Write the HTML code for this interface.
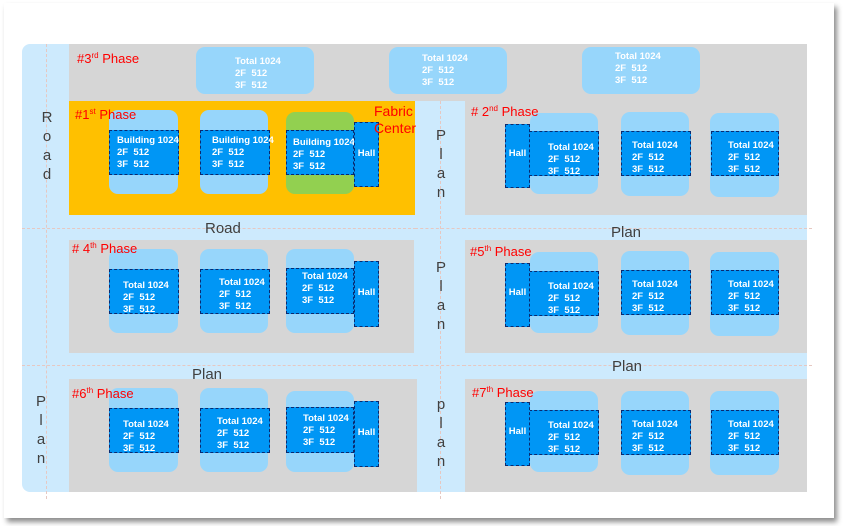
<!DOCTYPE html>
<html><head><meta charset="utf-8"><style>
*{margin:0;padding:0;box-sizing:border-box}
body{width:846px;height:526px;background:#fff;position:relative;overflow:hidden;font-family:"Liberation Sans",Arial,sans-serif}
.a{position:absolute}
.card{left:4px;top:3px;width:830px;height:515px;background:#fff;box-shadow:3px 4px 5px rgba(0,0,0,.45)}
.lb{background:#cdeafd}
.g{background:#d6d6d6}
.lt{background:#97d6fb;border-radius:9px}
.dk{background:#0096f5;border:1.5px dashed #0a2a70;color:#fff;font-weight:bold;font-size:9.5px;line-height:12px;white-space:nowrap}
.hall{background:#0096f5;border:1.5px dashed #0a2a70;color:#fff;font-weight:bold;font-size:9.5px;text-align:center}
.red{color:#f00;font-size:13px;z-index:5;white-space:nowrap}
.red sup{font-size:8px;vertical-align:5px;line-height:0}
.road{color:#404040;font-size:15px;z-index:5}
.vt{color:#404040;font-size:15px;line-height:19px;text-align:center;width:20px;z-index:5}
.dh{border-top:1px dashed #e6c8c2;height:0}
.dv{border-left:1px dashed #e6c8c2;width:0}
.tw{color:#fff;font-weight:bold;font-size:9.5px;line-height:12px}
</style></head><body>
<div class="a card"></div>
<div class="a lb" style="left:22px;top:44px;width:785px;height:448px;border-radius:8px"></div>
<div class="a" style="left:807px;top:44px;width:20px;height:450px;background:#fff"></div>
<div class="a dh" style="left:22px;top:228px;width:790px"></div>
<div class="a dh" style="left:22px;top:365px;width:790px"></div>
<div class="a dv" style="left:46px;top:44px;height:455px"></div>
<div class="a g" style="left:69px;top:44px;width:738px;height:57px"></div>
<div class="a" style="left:69px;top:101px;width:346px;height:114px;background:#ffc000"></div>
<div class="a g" style="left:465px;top:101px;width:342px;height:114px"></div>
<div class="a g" style="left:69px;top:240px;width:345px;height:113px"></div>
<div class="a g" style="left:465px;top:240px;width:342px;height:113px"></div>
<div class="a g" style="left:69px;top:379px;width:345px;height:113px"></div>
<div class="a g" style="left:465px;top:379px;width:342px;height:113px"></div>
<div class="a lb" style="left:415px;top:101px;width:50px;height:391px;border-radius:8px"></div>
<div class="a" style="left:414px;top:379px;width:3px;height:113px;background:#d6d6d6"></div>
<div class="a dv" style="left:440px;top:101px;height:398px"></div>
<div class="a dh" style="left:415px;top:228px;width:50px"></div>
<div class="a dh" style="left:415px;top:365px;width:50px"></div>

<div class="a lt" style="left:196px;top:47px;width:118px;height:47px"></div>
<div class="a tw" style="left:235px;top:56px">Total 1024<br>2F&nbsp; 512<br>3F&nbsp; 512</div>
<div class="a lt" style="left:389px;top:47px;width:118px;height:47px"></div>
<div class="a tw" style="left:422px;top:53px">Total 1024<br>2F&nbsp; 512<br>3F&nbsp; 512</div>
<div class="a lt" style="left:582px;top:47px;width:118px;height:47px"></div>
<div class="a tw" style="left:615px;top:51px">Total 1024<br>2F&nbsp; 512<br>3F&nbsp; 512</div>

<div class="a lt" style="left:109px;top:110px;width:69px;height:84px"></div>
<div class="a dk" style="left:109px;top:130px;width:70px;height:45px;padding:4px 0 0 7px">Building 1024<br>2F&nbsp; 512<br>3F&nbsp; 512</div>
<div class="a lt" style="left:200px;top:110px;width:68px;height:84px"></div>
<div class="a dk" style="left:200px;top:130px;width:70px;height:45px;padding:4px 0 0 11px">Building 1024<br>2F&nbsp; 512<br>3F&nbsp; 512</div>
<div class="a lt" style="left:286px;top:112px;width:68px;height:82px;background:#92d050"></div>
<div class="a dk" style="left:286px;top:130px;width:68px;height:45px;padding:6px 0 0 6px">Building 1024<br>2F&nbsp; 512<br>3F&nbsp; 512</div>
<div class="a hall" style="left:354px;top:122px;width:25px;height:65px;padding-top:25px">Hall</div>

<div class="a lt" style="left:109px;top:249px;width:69px;height:84px"></div>
<div class="a dk" style="left:109px;top:269px;width:70px;height:45px;padding:10px 0 0 13px">Total 1024<br>2F&nbsp; 512<br>3F&nbsp; 512</div>
<div class="a lt" style="left:200px;top:249px;width:68px;height:84px"></div>
<div class="a dk" style="left:200px;top:269px;width:70px;height:45px;padding:7px 0 0 18px">Total 1024<br>2F&nbsp; 512<br>3F&nbsp; 512</div>
<div class="a lt" style="left:286px;top:249px;width:68px;height:84px"></div>
<div class="a dk" style="left:286px;top:268px;width:68px;height:46px;padding:2px 0 0 15px">Total 1024<br>2F&nbsp; 512<br>3F&nbsp; 512</div>
<div class="a hall" style="left:354px;top:261px;width:25px;height:66px;padding-top:25px">Hall</div>

<div class="a lt" style="left:109px;top:388px;width:69px;height:84px"></div>
<div class="a dk" style="left:109px;top:408px;width:70px;height:45px;padding:10px 0 0 13px">Total 1024<br>2F&nbsp; 512<br>3F&nbsp; 512</div>
<div class="a lt" style="left:200px;top:388px;width:68px;height:84px"></div>
<div class="a dk" style="left:200px;top:408px;width:70px;height:45px;padding:7px 0 0 16px">Total 1024<br>2F&nbsp; 512<br>3F&nbsp; 512</div>
<div class="a lt" style="left:286px;top:391px;width:68px;height:81px"></div>
<div class="a dk" style="left:286px;top:407px;width:68px;height:46px;padding:5px 0 0 16px">Total 1024<br>2F&nbsp; 512<br>3F&nbsp; 512</div>
<div class="a hall" style="left:354px;top:401px;width:25px;height:66px;padding-top:25px">Hall</div>

<div class="a lt" style="left:530px;top:113px;width:68px;height:81px"></div>
<div class="a dk" style="left:529px;top:131px;width:70px;height:45px;padding:10px 0 0 18px">Total 1024<br>2F&nbsp; 512<br>3F&nbsp; 512</div>
<div class="a hall" style="left:505px;top:124px;width:25px;height:64px;padding-top:23px">Hall</div>
<div class="a lt" style="left:621px;top:112px;width:68px;height:84px"></div>
<div class="a dk" style="left:621px;top:131px;width:70px;height:45px;padding:8px 0 0 10px">Total 1024<br>2F&nbsp; 512<br>3F&nbsp; 512</div>
<div class="a lt" style="left:710px;top:113px;width:69px;height:84px"></div>
<div class="a dk" style="left:711px;top:131px;width:68px;height:45px;padding:8px 0 0 16px">Total 1024<br>2F&nbsp; 512<br>3F&nbsp; 512</div>

<div class="a lt" style="left:530px;top:252px;width:68px;height:81px"></div>
<div class="a dk" style="left:529px;top:271px;width:70px;height:45px;padding:9px 0 0 18px">Total 1024<br>2F&nbsp; 512<br>3F&nbsp; 512</div>
<div class="a hall" style="left:505px;top:263px;width:25px;height:64px;padding-top:23px">Hall</div>
<div class="a lt" style="left:621px;top:251px;width:68px;height:84px"></div>
<div class="a dk" style="left:621px;top:270px;width:70px;height:45px;padding:8px 0 0 10px">Total 1024<br>2F&nbsp; 512<br>3F&nbsp; 512</div>
<div class="a lt" style="left:710px;top:252px;width:69px;height:84px"></div>
<div class="a dk" style="left:711px;top:270px;width:68px;height:45px;padding:8px 0 0 16px">Total 1024<br>2F&nbsp; 512<br>3F&nbsp; 512</div>

<div class="a lt" style="left:530px;top:391px;width:68px;height:81px"></div>
<div class="a dk" style="left:529px;top:410px;width:70px;height:45px;padding:9px 0 0 18px">Total 1024<br>2F&nbsp; 512<br>3F&nbsp; 512</div>
<div class="a hall" style="left:505px;top:402px;width:25px;height:64px;padding-top:23px">Hall</div>
<div class="a lt" style="left:621px;top:391px;width:68px;height:84px"></div>
<div class="a dk" style="left:621px;top:410px;width:70px;height:45px;padding:8px 0 0 10px">Total 1024<br>2F&nbsp; 512<br>3F&nbsp; 512</div>
<div class="a lt" style="left:710px;top:391px;width:69px;height:84px"></div>
<div class="a dk" style="left:711px;top:410px;width:68px;height:45px;padding:8px 0 0 16px">Total 1024<br>2F&nbsp; 512<br>3F&nbsp; 512</div>

<div class="a vt" style="left:37px;top:108px">R<br>o<br>a<br>d</div>
<div class="a vt" style="left:31px;top:392px">P<br>l<br>a<br>n</div>
<div class="a vt" style="left:431px;top:126px">P<br>l<br>a<br>n</div>
<div class="a vt" style="left:431px;top:258px">P<br>l<br>a<br>n</div>
<div class="a vt" style="left:431px;top:395px">p<br>l<br>a<br>n</div>
<div class="a road" style="left:205px;top:220px">Road</div>
<div class="a road" style="left:611px;top:224px">Plan</div>
<div class="a road" style="left:612px;top:358px">Plan</div>
<div class="a road" style="left:192px;top:366px">Plan</div>

<div class="a red" style="left:77px;top:51px">#3<sup>rd</sup> Phase</div>
<div class="a red" style="left:75px;top:107px">#1<sup>st</sup> Phase</div>
<div class="a red" style="left:374px;top:103px;line-height:17px;font-size:14px">Fabric<br>Center</div>
<div class="a red" style="left:471px;top:104px"># 2<sup>nd</sup> Phase</div>
<div class="a red" style="left:72px;top:241px"># 4<sup>th</sup> Phase</div>
<div class="a red" style="left:470px;top:244px">#5<sup>th</sup> Phase</div>
<div class="a red" style="left:72px;top:386px">#6<sup>th</sup> Phase</div>
<div class="a red" style="left:472px;top:385px">#7<sup>th</sup> Phase</div>
</body></html>
